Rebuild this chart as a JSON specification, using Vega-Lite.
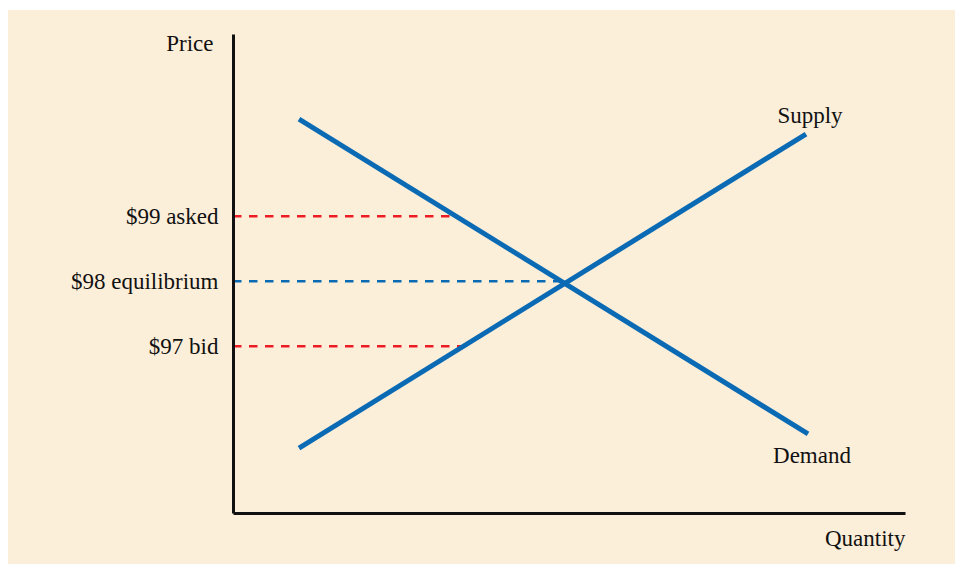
{
  "$schema": "https://vega.github.io/schema/vega-lite/v6.json",
  "width": 672,
  "height": 479,
  "autosize": {"type": "none"},
  "padding": {"left": 233, "top": 34, "right": 50, "bottom": 51},
  "background": "#ffffff",
  "config": {
    "view": {"stroke": null},
    "font": "Liberation Serif",
    "axis": {"grid": false, "ticks": false, "domainColor": "#111111", "domainWidth": 3, "labelFont": "Liberation Serif", "titleFont": "Liberation Serif", "labelColor": "#111111", "titleColor": "#111111", "titleFontWeight": "normal"}
  },
  "datasets": {
    "curves": [
      {"series": "Demand", "q": 0.982, "p": 100.497},
      {"series": "Demand", "q": 8.557, "p": 95.651},
      {"series": "Supply", "q": 0.982, "p": 95.435},
      {"series": "Supply", "q": 8.527, "p": 100.266}
    ],
    "prices": [
      {"label": "$99 asked", "kind": "quote", "p": 99, "q0": 0, "q1": 3.32},
      {"label": "$98 equilibrium", "kind": "equilibrium", "p": 98, "q0": 0, "q1": 4.9},
      {"label": "$97 bid", "kind": "quote", "p": 97, "q0": 0, "q1": 3.45}
    ],
    "names": [
      {"series": "Supply", "q": 8.586, "p": 100.435},
      {"series": "Demand", "q": 8.616, "p": 95.205}
    ],
    "panel": [
      {"qa": -3.348, "qb": 10.8, "pa": 102.174, "pb": 93.6}
    ]
  },
  "layer": [
    {
      "data": {"name": "panel"},
      "mark": {"type": "rect", "fill": "#fcefda", "clip": false},
      "encoding": {
        "x": {"field": "qa", "type": "quantitative", "scale": {"domain": [0, 10], "nice": false, "zero": false},
          "axis": {"zindex": 2, "title": "Quantity", "labels": false, "titleFontSize": 23, "titleAlign": "right", "titleAnchor": null, "titleX": 672, "titleY": 32, "titleBaseline": "alphabetic", "tickCount": 0}},
        "x2": {"field": "qb"},
        "y": {"field": "pa", "type": "quantitative", "scale": {"domain": [94.435, 101.805], "nice": false, "zero": false},
          "axis": {"zindex": 2, "title": "Price", "values": [97, 98, 99], "labelExpr": "datum.value == 99 ? '$99 asked' : datum.value == 98 ? '$98 equilibrium' : '$97 bid'", "labelFontSize": 23, "labelPadding": 15, "labelBaseline": "middle", "titleFontSize": 23, "titleAngle": 0, "titleAlign": "right", "titleAnchor": null, "titleX": -20, "titleY": 16, "titleBaseline": "alphabetic"}},
        "y2": {"field": "pb"}
      }
    },
    {
      "data": {"name": "prices"},
      "mark": {"type": "rule", "strokeWidth": 2.5, "strokeDash": [8.5, 7.5]},
      "encoding": {
        "x": {"field": "q0", "type": "quantitative"},
        "x2": {"field": "q1"},
        "y": {"field": "p", "type": "quantitative"},
        "color": {"field": "kind", "type": "nominal", "scale": {"domain": ["quote", "equilibrium"], "range": ["#ec1c24", "#0b6ab4"]}, "legend": null}
      }
    },
    {
      "data": {"name": "curves"},
      "mark": {"type": "line", "strokeWidth": 5, "strokeCap": "butt", "color": "#0b6ab4"},
      "encoding": {
        "x": {"field": "q", "type": "quantitative"},
        "y": {"field": "p", "type": "quantitative"},
        "detail": {"field": "series"}
      }
    },
    {
      "data": {"name": "names"},
      "mark": {"type": "text", "fontSize": 23, "align": "center", "baseline": "alphabetic", "color": "#111111", "font": "Liberation Serif"},
      "encoding": {
        "x": {"field": "q", "type": "quantitative"},
        "y": {"field": "p", "type": "quantitative"},
        "text": {"field": "series"}
      }
    }
  ]
}
